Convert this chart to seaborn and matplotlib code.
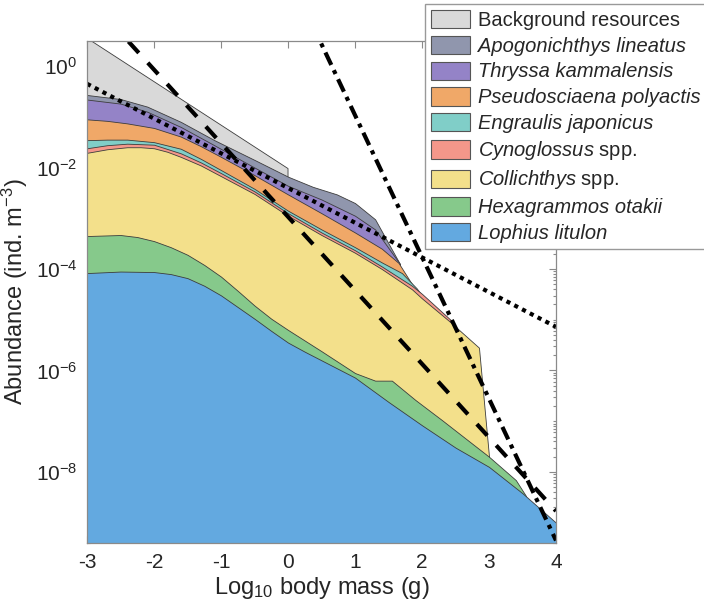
import numpy as np
import pandas as pd
import matplotlib
matplotlib.use("Agg")
import matplotlib.pyplot as plt
import seaborn as sns
from matplotlib.patches import Patch
from matplotlib.ticker import FixedLocator, FixedFormatter, NullFormatter

# ---------------- data (log10 abundance of cumulative layer tops) ----------------
bg_x = [-3, 0]
bg_v = [0.55, -2.02]

apo_x = [-3, -2.5, -2.1, -1.6, -1.1, -0.5, 0, 0.37, 0.73, 1.0, 1.3, 1.67]
apo_v = [-0.57, -0.65, -0.80, -1.10, -1.46, -1.85, -2.18, -2.38, -2.53, -2.70, -3.02, -3.90]

thr_x = [-3, -2.5, -2.1, -1.6, -1.1, -0.5, 0, 0.5, 1.0, 1.3, 1.67]
thr_v = [-0.66, -0.74, -0.90, -1.20, -1.56, -2.00, -2.36, -2.63, -2.95, -3.22, -3.90]

pse_x = [-3, -2.7, -2.4, -2.0, -1.6, -1.3, -1.0, -0.5, 0, 0.5, 1.0, 1.4, 1.65, 1.87]
pse_v = [-1.05, -1.08, -1.13, -1.22, -1.39, -1.58, -1.79, -2.15, -2.53, -2.90, -3.28, -3.60, -3.88, -4.34]

eng_x = [-3, -2.7, -2.4, -2.0, -1.6, -1.3, -1.0, -0.5, 0, 0.5, 1.0, 1.4, 1.7, 1.92, 2.0]
eng_v = [-1.46, -1.45, -1.45, -1.50, -1.63, -1.83, -2.05, -2.42, -2.85, -3.22, -3.57, -3.87, -4.08, -4.38, -4.52]

cyn_x = [-3, -2.7, -2.4, -2.0, -1.6, -1.3, -1.0, -0.5, 0, 0.5, 1.0, 1.4, 1.85, 2.0, 2.45, 2.52]
cyn_v = [-1.62, -1.56, -1.53, -1.55, -1.72, -1.90, -2.11, -2.47, -2.90, -3.28, -3.63, -3.95, -4.33, -4.49, -5.03, -5.17]

col_x = [-3, -2.7, -2.4, -2.2, -2.0, -1.8, -1.6, -1.3, -1.0, -0.5, 0, 0.5, 1.0, 1.4, 1.85, 2.0, 2.4, 2.85, 3.0]
col_v = [-1.71, -1.64, -1.60, -1.60, -1.62, -1.69, -1.79, -1.96, -2.17, -2.52, -2.95, -3.33, -3.68, -4.00, -4.40, -4.58, -5.02, -5.55, -7.70]

hex_x = [-3, -2.5, -2.25, -2.0, -1.75, -1.5, -1.25, -1.0, -0.75, -0.5, -0.25, 0, 0.5, 1.0, 1.3, 1.55, 1.9, 2.3, 3.0, 3.4, 3.55]
hex_v = [-3.35, -3.33, -3.37, -3.45, -3.57, -3.72, -3.92, -4.15, -4.43, -4.72, -4.98, -5.20, -5.62, -6.05, -6.20, -6.20, -6.58, -6.98, -7.70, -8.16, -8.47]

lop_x = [-3, -2.5, -2.0, -1.75, -1.5, -1.25, -1.0, -0.75, -0.5, -0.25, 0, 0.25, 0.5, 0.75, 1.0, 1.5, 2.0, 2.5, 3.0, 3.5, 4.0]
lop_v = [-4.08, -4.05, -4.06, -4.10, -4.18, -4.33, -4.52, -4.75, -4.98, -5.22, -5.45, -5.63, -5.80, -5.97, -6.14, -6.62, -7.08, -7.52, -7.90, -8.42, -9.00]

# size-spectrum reference lines (log10 abundance at x = -3 and x = 4)
line_x = [-3, 4]
dotted_v = [-0.35, -5.14]
dashed_v = [1.38, -8.77]
dashdot_v = [10.21, -9.35]

labels = ["Background resources", "Apogonichthys lineatus", "Thryssa kammalensis",
          "Pseudosciaena polyactis", "Engraulis japonicus", "Cynoglossus spp.",
          "Collichthys spp.", "Hexagrammos otakii", "Lophius litulon"]
colors = ["#d9d9d9", "#9096ad", "#9483c7", "#f0a868", "#80cec8",
          "#f4978a", "#f3e08b", "#86c98b", "#63a9e0"]

layers = [(bg_x, bg_v), (apo_x, apo_v), (thr_x, thr_v), (pse_x, pse_v), (eng_x, eng_v),
          (cyn_x, cyn_v), (col_x, col_v), (hex_x, hex_v), (lop_x, lop_v)]

# ---------------- style ----------------
sns.set_theme(style="ticks")
plt.rcParams["font.family"] = ["Liberation Sans", "DejaVu Sans"]
plt.rcParams["mathtext.fontset"] = "custom"
plt.rcParams["mathtext.rm"] = "Liberation Sans"
plt.rcParams["mathtext.it"] = "Liberation Sans:italic"
plt.rcParams["axes.unicode_minus"] = False

TXT = "#262626"
SPINE = "#8a8a8a"

fig = plt.figure(figsize=(7.04, 6.01), dpi=100)
ax = fig.add_axes([0.1236, 0.0965, 0.6662, 0.8358])

FLOOR = 1e-12
for (xs, vs), c in zip(layers, colors):
    ys = 10.0 ** np.asarray(vs)
    ax.fill_between(xs, FLOOR, ys, facecolor=c, edgecolor="#3c3c3c", linewidth=0.6, zorder=2)

df = pd.DataFrame({
    "x": line_x * 3,
    "y": list(10.0 ** np.asarray(dotted_v)) + list(10.0 ** np.asarray(dashed_v)) + list(10.0 ** np.asarray(dashdot_v)),
    "kind": ["dotted"] * 2 + ["dashed"] * 2 + ["dashdot"] * 2,
})
styles = {"dotted": (0, (1.0, 1.1)), "dashed": (0, (3.7, 3.2)), "dashdot": (0, (3.3, 1.4, 1.0, 1.4))}
for kind, sty in styles.items():
    sub = df[df["kind"] == kind]
    sns.lineplot(data=sub, x="x", y="y", ax=ax, color="black", lw=3.0,
                 linestyle=sty, zorder=4, estimator=None, sort=False)
for l in ax.get_lines():
    l.set_dash_capstyle("butt")

ax.set_yscale("log")
ax.set_xlim(-3, 4)
ax.set_ylim(10 ** -9.4, 10 ** 0.5)

ax.xaxis.set_major_locator(FixedLocator(list(range(-3, 5))))
ax.xaxis.set_major_formatter(FixedFormatter([str(v) for v in range(-3, 5)]))
majors = [-8, -6, -4, -2, 0]
ax.yaxis.set_major_locator(FixedLocator([10.0 ** k for k in majors]))
ax.yaxis.set_major_formatter(FixedFormatter([r"$10^{%d}$" % k for k in majors]))
minors = [m * 10.0 ** k for k in range(-10, 1) for m in range(1, 10)
          if not (m == 1 and k in majors)]
ax.yaxis.set_minor_locator(FixedLocator(minors))
ax.yaxis.set_minor_formatter(NullFormatter())

ax.tick_params(which="both", direction="in", top=True, right=True, color=SPINE,
               labelcolor=TXT, labelsize=15, width=0.8)
ax.tick_params(which="major", length=5, pad=7)
ax.tick_params(which="minor", length=2.5)
for s in ax.spines.values():
    s.set_color(SPINE)
    s.set_linewidth(0.9)
    s.set_zorder(5)

ax.set_xlabel(r"Log$_{10}$ body mass (g)", fontsize=17, color=TXT, labelpad=2)
ax.set_ylabel(r"Abundance (ind. m$^{-3}$)", fontsize=17, color=TXT, labelpad=4)

handles = [Patch(facecolor=c, edgecolor="#555555", linewidth=0.8) for c in colors]
leg = fig.legend(handles, labels, loc="upper left", bbox_to_anchor=(425 / 704, 1 - 4 / 601),
                 bbox_transform=fig.transFigure, fontsize=14.5, frameon=True, fancybox=False,
                 borderaxespad=0, borderpad=0.28, handlelength=1.95, handleheight=1.0,
                 handletextpad=0.4, labelspacing=0.3)
leg.get_frame().set_edgecolor("#999999")
leg.get_frame().set_linewidth(1.0)
leg.get_frame().set_alpha(1)
for t, lab in zip(leg.get_texts(), labels):
    t.set_color(TXT)
    if lab.endswith("spp."):
        t.set_text(r"$\mathit{%s}$ spp." % lab.split()[0])
    elif lab != "Background resources":
        t.set_fontstyle("italic")

fig.savefig("out.png", dpi=100)
